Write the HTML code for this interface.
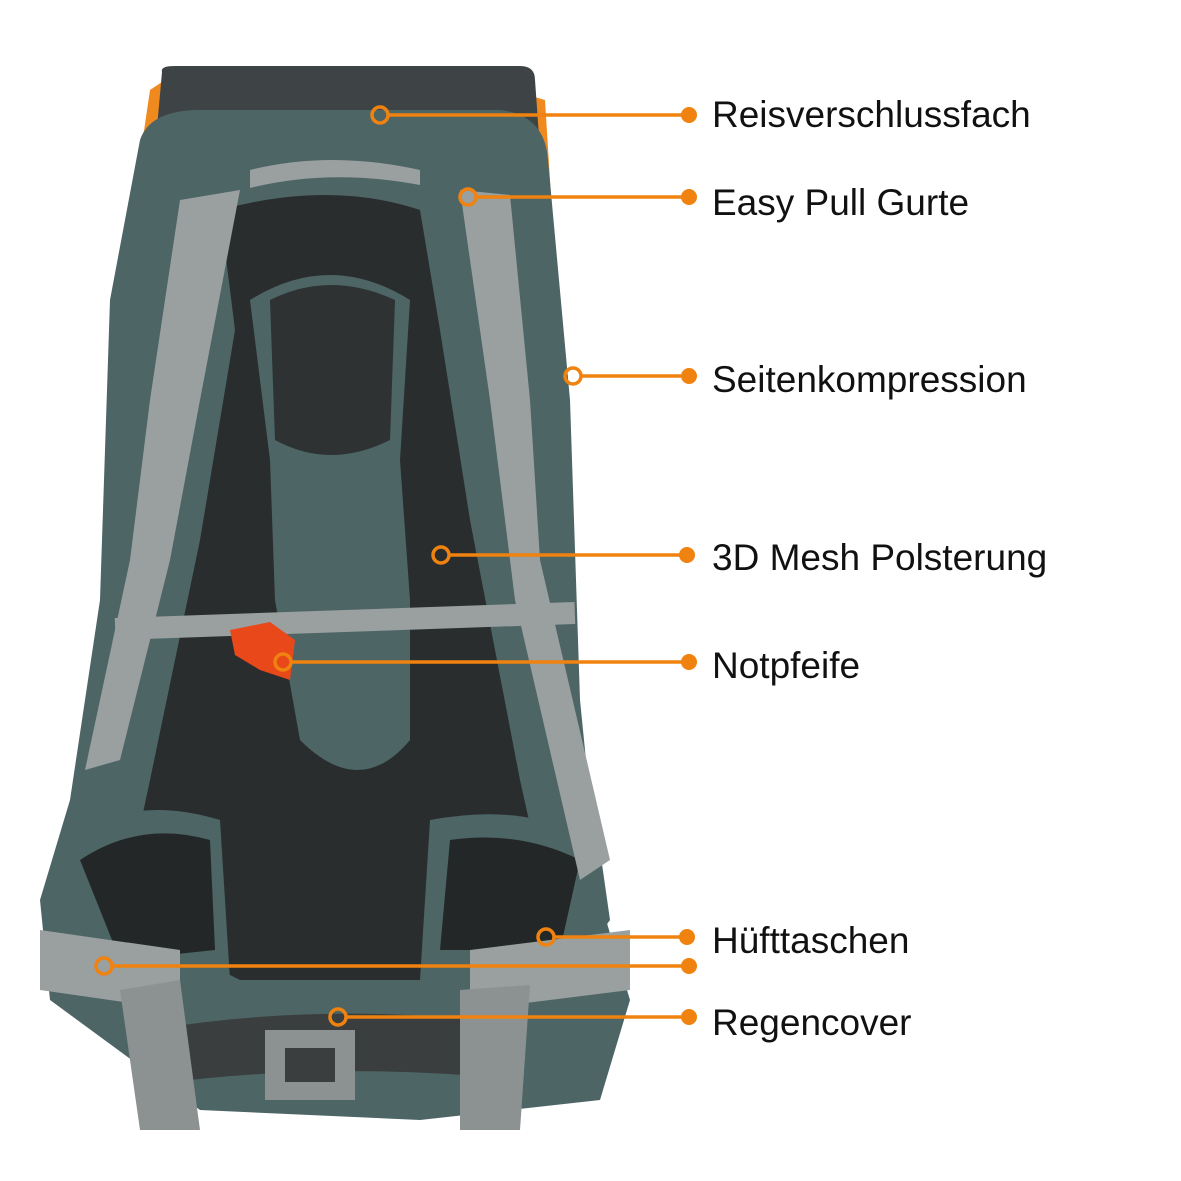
<!DOCTYPE html>
<html><head><meta charset="utf-8"><style>
html,body{margin:0;padding:0;background:#fff;}
.wrap{position:relative;width:1181px;height:1181px;overflow:hidden;}
.t{position:absolute;left:712px;font-family:"Liberation Sans",sans-serif;font-size:37px;color:#111;line-height:1;}
</style></head><body><div class="wrap">
<svg width="1181" height="1181" viewBox="0 0 1181 1181" style="position:absolute;left:0;top:0">
<path d="M150 90 L165 80 L150 200 L140 300 L125 260 Z" fill="#f08a1e"/>
<path d="M510 90 L545 100 L555 260 L530 280 Z" fill="#f08a1e"/>
<path d="M162 72 Q160 66 175 66 L520 66 Q535 66 535 80 L540 150 L155 150 Z" fill="#3e4446"/>
<path d="M140 140 Q150 110 200 110 L500 110 Q545 115 548 160 L570 400 L580 700 L600 900 L630 1000 L600 1100 L420 1120 L200 1110 L50 1000 L40 900 L70 800 L100 600 L110 300 Z" fill="#4d6565"/>
<path d="M220 210 Q330 180 420 210 L440 330 L470 520 L520 780 L560 960 L420 980 L240 980 L120 920 L150 780 L200 540 L235 330 Z" fill="#2a2d2e"/>
<path d="M60 850 Q120 790 220 820 L230 980 L130 1000 L55 930 Z" fill="#4d6565"/>
<path d="M600 850 Q540 800 430 820 L420 980 L560 990 L610 920 Z" fill="#4d6565"/>
<path d="M80 860 Q140 820 210 840 L215 950 L120 960 Z" fill="#242728"/>
<path d="M580 860 Q520 830 450 840 L440 950 L560 950 Z" fill="#242728"/>
<path d="M250 300 Q330 250 410 300 L400 460 L410 600 L410 740 Q360 800 300 740 L275 600 L270 460 Z" fill="#4d6565"/>
<path d="M270 300 Q330 270 395 300 L390 440 Q330 470 275 440 Z" fill="#2e3233"/>
<path d="M180 200 L240 190 L200 400 L170 560 L120 760 L85 770 L130 560 L150 400 Z" fill="#9a9fa0"/>
<path d="M460 190 L510 195 L530 400 L540 560 L610 860 L580 880 L515 600 L490 400 Z" fill="#9a9fa0"/>
<path d="M250 170 Q330 150 420 170 L420 185 Q330 168 250 188 Z" fill="#9a9fa0"/>
<rect x="115" y="610" width="460" height="22" fill="#9a9fa0" transform="rotate(-2 345 621)"/>
<path d="M230 630 L270 622 L295 640 L290 680 L260 670 L235 655 Z" fill="#e8481a"/>
<path d="M40 930 L180 950 L180 1010 L40 990 Z" fill="#9a9fa0"/>
<path d="M470 950 L630 930 L630 990 L470 1010 Z" fill="#9a9fa0"/>
<path d="M150 1030 Q330 1000 520 1025 L520 1080 Q330 1060 150 1085 Z" fill="#3a3e3f"/>
<path d="M265 1030 L355 1030 L355 1100 L265 1100 Z" fill="#8c9192"/>
<path d="M285 1048 L335 1048 L335 1082 L285 1082 Z" fill="#3a3e3f"/>
<path d="M120 990 L180 980 L200 1130 L140 1130 Z" fill="#8c9192"/>
<path d="M460 990 L530 985 L520 1130 L460 1130 Z" fill="#8c9192"/>
<g stroke="#f0820f" stroke-width="3.5" fill="none">
<line x1="389" y1="115" x2="689" y2="115"/>
<line x1="477" y1="197" x2="689" y2="197"/>
<line x1="582" y1="376" x2="689" y2="376"/>
<line x1="450" y1="555" x2="687" y2="555"/>
<line x1="292" y1="662" x2="689" y2="662"/>
<line x1="555" y1="937" x2="687" y2="937"/>
<line x1="113" y1="966" x2="689" y2="966"/>
<line x1="347" y1="1017" x2="689" y2="1017"/>
<circle cx="380" cy="115" r="8"/><circle cx="468" cy="197" r="8"/>
<circle cx="573" cy="376" r="8"/><circle cx="441" cy="555" r="8"/>
<circle cx="283" cy="662" r="8"/><circle cx="546" cy="937" r="8"/>
<circle cx="104" cy="966" r="8"/><circle cx="338" cy="1017" r="8"/>
</g>
<g fill="#f0820f">
<circle cx="689" cy="115" r="8"/><circle cx="689" cy="197" r="8"/>
<circle cx="689" cy="376" r="8"/><circle cx="687" cy="555" r="8"/>
<circle cx="689" cy="662" r="8"/><circle cx="687" cy="937" r="8"/>
<circle cx="689" cy="966" r="8"/><circle cx="689" cy="1017" r="8"/>
</g>
</svg>
<div class="t" style="top:96px">Reisverschlussfach</div>
<div class="t" style="top:184px">Easy Pull Gurte</div>
<div class="t" style="top:361px">Seitenkompression</div>
<div class="t" style="top:539px">3D Mesh Polsterung</div>
<div class="t" style="top:647px">Notpfeife</div>
<div class="t" style="top:922px">Hüfttaschen</div>
<div class="t" style="top:1004px">Regencover</div>
</div></body></html>
